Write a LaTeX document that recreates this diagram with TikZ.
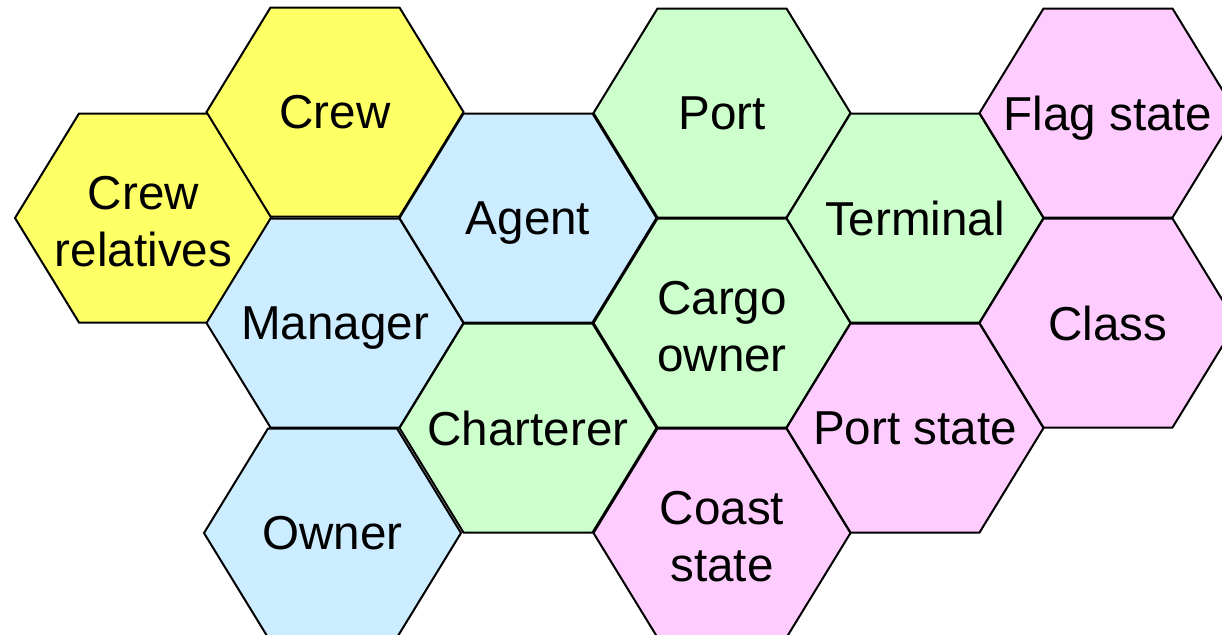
\documentclass[tikz,border=0pt]{standalone}
\usepackage{fontspec}
\setmainfont{Liberation Sans}
\definecolor{hexyellow}{HTML}{FFFF66}
\definecolor{hexblue}{HTML}{CCECFF}
\definecolor{hexgreen}{HTML}{CCFFCC}
\definecolor{hexpink}{HTML}{FFCCFF}
\tikzset{
  hexcellshape/.style={draw=black, line width=1pt, line join=miter},
  hexlabel/.style={align=center, font=\fontsize{23.8}{28.8}\selectfont, inner sep=0pt, text depth=0pt},
  twoline/.style={yshift=-1.6pt}
}
\newcommand\hexcell[6][]{%
  \path[hexcellshape, fill=#4] ({#2-128.5},{#3}) -- ({#2-64.5},{#3-104.5}) -- ({#2+64.5},{#3-104.5})
    -- ({#2+128.5},{#3}) -- ({#2+64.5},{#3+104.5}) -- ({#2-64.5},{#3+104.5}) -- cycle;
  \node[hexlabel,#1] (#5) at (#2,#3) {#6};%
}
\begin{document}
\begin{tikzpicture}[x=0.5pt,y=-0.5pt]
\useasboundingbox (0,0) rectangle (1222,634);
\clip (0,0) rectangle (1222,634);
\hexcell[twoline]{143.5}{218}{hexyellow}{crewrel}{Crew\\relatives}
\hexcell{335}{112}{hexyellow}{crew}{Crew}
\hexcell{335}{323}{hexblue}{manager}{Manager}
\hexcell{332.5}{533}{hexblue}{owner}{Owner}
\hexcell{528}{218}{hexblue}{agent}{Agent}
\hexcell{528}{428}{hexgreen}{charterer}{Charterer}
\hexcell{722}{113}{hexgreen}{port}{Port}
\hexcell[twoline]{722}{323}{hexgreen}{cargo}{Cargo\\owner}
\hexcell[twoline]{722}{533}{hexpink}{coast}{Coast\\state}
\hexcell{915}{218}{hexgreen}{terminal}{Terminal}
\hexcell{915}{428}{hexpink}{portstate}{Port state}
\hexcell{1108}{113}{hexpink}{flag}{Flag state}
\hexcell{1108}{323}{hexpink}{class}{Class}
\end{tikzpicture}
\end{document}
